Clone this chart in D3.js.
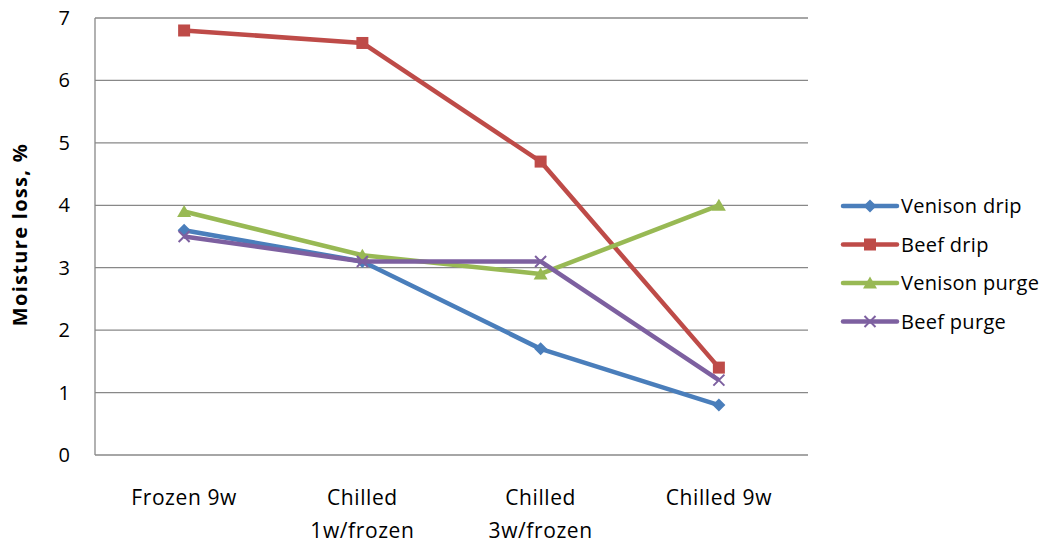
<!DOCTYPE html>
<meta charset="utf-8">
<style>
  body { margin: 0; background: #fff; }
  text { font-family: "Open Sans", sans-serif; }
</style>
<script src="https://d3js.org/d3.v7.min.js"></script>
<div id="chart"></div>
<script>
  // data
  const categories = ["Frozen 9w", "Chilled 1w/frozen", "Chilled 3w/frozen", "Chilled 9w"];
  const categoryLines = [["Frozen 9w"], ["Chilled", "1w/frozen"], ["Chilled", "3w/frozen"], ["Chilled 9w"]];
  const seriesNames = ["Venison drip", "Beef drip", "Venison purge", "Beef purge"];
  const venisonDrip = [3.6, 3.1, 1.7, 0.8];
  const beefDrip = [6.8, 6.6, 4.7, 1.4];
  const venisonPurge = [3.9, 3.2, 2.9, 4.0];
  const beefPurge = [3.5, 3.1, 3.1, 1.2];
  const yTicks = [0, 1, 2, 3, 4, 5, 6, 7];

  const colors = ["#4a7ebb", "#be4b48", "#98b954", "#7d60a0"];
  const markers = ["diamond", "square", "triangle", "x"];
  const series = [venisonDrip, beefDrip, venisonPurge, beefPurge];

  const W = 1045, H = 546;
  const margin = {top: 18, right: 237, bottom: 91, left: 95};
  const width = W - margin.left - margin.right;
  const height = H - margin.top - margin.bottom;
  const fs = "20px";

  const svg = d3.select("#chart").append("svg")
      .attr("width", W).attr("height", H);
  const g = svg.append("g")
      .attr("transform", "translate(" + margin.left + "," + margin.top + ")");

  const x = d3.scaleBand().domain(categories).range([0, width]);
  const y = d3.scaleLinear().domain([0, 7]).range([height, 0]);

  // gridlines
  g.selectAll(".grid").data(yTicks.slice(1)).enter().append("line")
      .attr("x1", 0).attr("x2", width)
      .attr("y1", d => y(d)).attr("y2", d => y(d))
      .attr("stroke", "#888").attr("stroke-width", 1.3);

  // axes lines
  g.append("line").attr("x1", 0).attr("x2", 0).attr("y1", 0).attr("y2", height)
      .attr("stroke", "#888").attr("stroke-width", 1.3);
  g.append("line").attr("x1", 0).attr("x2", width).attr("y1", height).attr("y2", height)
      .attr("stroke", "#888").attr("stroke-width", 1.3);

  // y tick labels
  g.selectAll(".ylab").data(yTicks).enter().append("text")
      .attr("x", -25).attr("y", d => y(d)).attr("dy", "0.35em")
      .attr("text-anchor", "end").attr("font-size", fs).attr("fill", "#000")
      .text(d => d);

  // x labels
  categories.forEach((c, i) => {
    const t = g.append("text")
        .attr("text-anchor", "middle").attr("font-size", "21px").attr("letter-spacing", "0.6px")
        .attr("fill", "#000")
        .attr("x", x(c) + x.bandwidth() / 2).attr("y", height + 50);
    categoryLines[i].forEach((line, j) => {
      t.append("tspan").attr("x", x(c) + x.bandwidth() / 2).attr("dy", j === 0 ? 0 : 33).text(line);
    });
  });

  // y axis title
  svg.append("text")
      .attr("transform", "translate(27," + (margin.top + height / 2 - 2) + ") rotate(-90)")
      .attr("text-anchor", "middle").attr("font-size", fs).attr("font-weight", "bold")
      .attr("letter-spacing", "1.3px")
      .text("Moisture loss, %");

  function drawMarker(sel, type, color, cx, cy) {
    if (type === "diamond") {
      sel.append("path").attr("d", `M${cx},${cy - 6.5}L${cx + 6.5},${cy}L${cx},${cy + 6.5}L${cx - 6.5},${cy}Z`).attr("fill", color);
    } else if (type === "square") {
      sel.append("rect").attr("x", cx - 6).attr("y", cy - 6).attr("width", 12).attr("height", 12).attr("fill", color);
    } else if (type === "triangle") {
      sel.append("path").attr("d", `M${cx},${cy - 6.5}L${cx + 7},${cy + 5.5}L${cx - 7},${cy + 5.5}Z`).attr("fill", color);
    } else {
      sel.append("path").attr("d", `M${cx - 5.5},${cy - 5.5}L${cx + 5.5},${cy + 5.5}M${cx - 5.5},${cy + 5.5}L${cx + 5.5},${cy - 5.5}`)
          .attr("stroke", color).attr("stroke-width", 2);
    }
  }

  const line = d3.line()
      .x((d, i) => x(categories[i]) + x.bandwidth() / 2)
      .y(d => y(d));

  series.forEach((s, k) => {
    g.append("path").datum(s).attr("d", line)
        .attr("fill", "none").attr("stroke", colors[k]).attr("stroke-width", 4.5)
        .attr("stroke-linejoin", "round");
    s.forEach((v, i) => drawMarker(g, markers[k], colors[k], x(categories[i]) + x.bandwidth() / 2, y(v)));
  });

  // legend
  const legend = svg.append("g").attr("transform", "translate(843,206)");
  seriesNames.forEach((n, k) => {
    const ly = k * 38.5;
    legend.append("line").attr("x1", 0).attr("x2", 54).attr("y1", ly).attr("y2", ly)
        .attr("stroke", colors[k]).attr("stroke-width", 4.5).attr("stroke-linecap", "round");
    drawMarker(legend, markers[k], colors[k], 27, ly);
    legend.append("text").attr("x", 58).attr("y", ly).attr("dy", "0.35em")
        .attr("font-size", fs).attr("letter-spacing", "0.3px").attr("fill", "#000").text(n);
  });
</script>
